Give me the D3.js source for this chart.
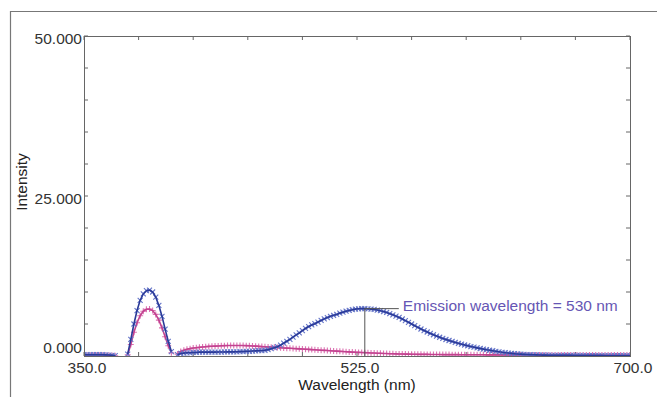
<!DOCTYPE html>
<html>
<head>
<meta charset="utf-8">
<script src="https://cdn.jsdelivr.net/npm/d3@7"></script>
<style>
  html, body { margin: 0; padding: 0; background: #fff; }
  svg { display: block; font-family: "Liberation Sans", Arial, sans-serif; }
</style>
</head>
<body>
<svg id="chart" width="657" height="397"></svg>
<script>
// wavelength grid, 2 nm steps from 350 to 700
const wavelengths = d3.range(350, 701, 2);

// blue series (x markers): emission spectrum
const blueValues = [
  0.2, 0.2, 0.2, 0.2, 0.2, 0.2, 0.2, 0.18, 0.15, 0.1, 0.05,          // 350-370
  null, null, null,                                                  // 372-376
  0.3, 2.6, 5.0, 7.1, 8.7, 9.7, 10.2, 10.3, 10.0, 9.2, 7.9, 6.2, 4.2, 2.3, 0.7, // 378-406
  null,                                                              // 408
  0.2, 0.4, 0.45, 0.5, 0.5, 0.55, 0.55, 0.6, 0.6, 0.6,               // 410-428
  0.6, 0.6, 0.6, 0.62, 0.62, 0.63, 0.64, 0.65, 0.65, 0.66,           // 430-448
  0.68, 0.7, 0.72, 0.74, 0.77, 0.8, 0.83, 0.85, 0.9, 1.0,            // 450-468
  1.15, 1.3, 1.45, 1.7, 2.0, 2.3, 2.6, 2.95, 3.3, 3.6,               // 470-488
  3.95, 4.3, 4.6, 4.85, 5.05, 5.3, 5.55, 5.8, 6.0, 6.2,              // 490-508
  6.35, 6.5, 6.7, 6.85, 7.0, 7.12, 7.23, 7.32, 7.38, 7.4,            // 510-528
  7.4, 7.38, 7.33, 7.27, 7.18, 7.08, 6.95, 6.8, 6.62, 6.43,          // 530-548
  6.23, 6.02, 5.78, 5.53, 5.27, 5.0, 4.73, 4.47, 4.22, 3.98,         // 550-568
  3.75, 3.53, 3.32, 3.12, 2.93, 2.75, 2.58, 2.42, 2.27, 2.12,        // 570-588
  1.98, 1.85, 1.72, 1.6, 1.48, 1.37, 1.27, 1.17, 1.07, 0.98,         // 590-608
  0.9, 0.82, 0.74, 0.66, 0.58, 0.52, 0.46, 0.41, 0.36, 0.32,         // 610-628
  0.29, 0.26, 0.23, 0.21, 0.19, 0.17, 0.15, 0.14, 0.13, 0.12,        // 630-648
  0.11, 0.1, 0.1, 0.1, 0.09, 0.09, 0.09, 0.08, 0.08, 0.08,           // 650-668
  0.07, 0.07, 0.07, 0.06, 0.06, 0.06, 0.06, 0.05, 0.05, 0.05,        // 670-688
  0.05, 0.05, 0.05, 0.05, 0.05, 0.05                                 // 690-700
];

// pink series (+ markers)
const pinkValues = [
  0.12, 0.12, 0.12, 0.12, 0.12, 0.12, 0.12, 0.1, 0.1, 0.08, 0.05,    // 350-370
  null, null, null,                                                  // 372-376
  0.2, 1.8, 3.7, 5.2, 6.3, 7.0, 7.3, 7.35, 7.1, 6.5, 5.6, 4.4, 3.0, 1.6, 0.5, // 378-406
  null,                                                              // 408
  0.3, 0.7, 0.9, 1.05, 1.15, 1.25, 1.3, 1.35, 1.4, 1.45,             // 410-428
  1.5, 1.52, 1.55, 1.57, 1.6, 1.62, 1.63, 1.64, 1.65, 1.65,          // 430-448
  1.65, 1.64, 1.62, 1.6, 1.57, 1.54, 1.5, 1.47, 1.44, 1.41,          // 450-468
  1.38, 1.35, 1.32, 1.29, 1.26, 1.23, 1.2, 1.17, 1.15, 1.12,         // 470-488
  1.09, 1.06, 1.03, 1.0, 0.97, 0.94, 0.91, 0.88, 0.85, 0.82,         // 490-508
  0.79, 0.76, 0.73, 0.7, 0.67, 0.64, 0.61, 0.58, 0.56, 0.54,         // 510-528
  0.52, 0.5, 0.48, 0.46, 0.44, 0.42, 0.4, 0.38, 0.36, 0.34,          // 530-548
  0.33, 0.32, 0.31, 0.3, 0.29, 0.28, 0.27, 0.26, 0.26, 0.25,         // 550-568
  0.25, 0.24, 0.24, 0.23, 0.23, 0.22, 0.22, 0.22, 0.21, 0.21,        // 570-588
  0.21, 0.2, 0.2, 0.2, 0.2, 0.19, 0.19, 0.19, 0.19, 0.18,            // 590-608
  0.18, 0.18, 0.18, 0.18, 0.17, 0.17, 0.17, 0.17, 0.17, 0.16,        // 610-628
  0.16, 0.16, 0.16, 0.16, 0.16, 0.15, 0.15, 0.15, 0.15, 0.15,        // 630-648
  0.15, 0.15, 0.15, 0.15, 0.15, 0.15, 0.15, 0.15, 0.15, 0.15,        // 650-668
  0.15, 0.15, 0.15, 0.15, 0.15, 0.15, 0.15, 0.15, 0.15, 0.15,        // 670-688
  0.15, 0.15, 0.15, 0.15, 0.15, 0.15                                 // 690-700
];

const xTicks = d3.range(350, 701, 35);
const xLabels = [350, 525, 700];
const yTicks = d3.range(0, 51, 5);
const yLabels = [0, 25, 50];
const peakWavelength = 530;
const peakValue = 7.4;
const annotationText = "Emission wavelength = 530 nm";

const svg = d3.select("#chart");
const margin = { top: 36, right: 27, bottom: 41, left: 84 };
const width = 657;
const height = 397;
const plotRight = width - margin.right;
const plotBottom = height - margin.bottom;

const x = d3.scaleLinear().domain([350, 700]).range([margin.left, plotRight]);
const y = d3.scaleLinear().domain([0, 50]).range([plotBottom, margin.top]);

const blueData = wavelengths.map((w, i) => ({ w, v: blueValues[i] }));
const pinkData = wavelengths.map((w, i) => ({ w, v: pinkValues[i] }));

// outer frame lines (left and top)
svg.append("line")
  .attr("x1", 10.5).attr("x2", 10.5).attr("y1", 11).attr("y2", height)
  .attr("stroke", "#777").attr("stroke-width", 1.2);
svg.append("line")
  .attr("x1", 10).attr("x2", width).attr("y1", 11.5).attr("y2", 11.5)
  .attr("stroke", "#777").attr("stroke-width", 1.2);

svg.append("defs").append("clipPath").attr("id", "plot-clip")
  .append("rect")
  .attr("x", margin.left).attr("y", margin.top)
  .attr("width", plotRight - margin.left).attr("height", plotBottom - margin.top);

// ticks on all four sides, pointing inward
const tickLen = 4;
const tickG = svg.append("g").attr("stroke", "#666").attr("stroke-width", 1);
xTicks.forEach((t) => {
  tickG.append("line").attr("x1", x(t)).attr("x2", x(t)).attr("y1", plotBottom).attr("y2", plotBottom - tickLen);
  tickG.append("line").attr("x1", x(t)).attr("x2", x(t)).attr("y1", margin.top).attr("y2", margin.top + tickLen);
});
yTicks.forEach((t) => {
  tickG.append("line").attr("x1", margin.left).attr("x2", margin.left + tickLen).attr("y1", y(t)).attr("y2", y(t));
  tickG.append("line").attr("x1", plotRight).attr("x2", plotRight - tickLen).attr("y1", y(t)).attr("y2", y(t));
});

// tick labels
svg.append("g")
  .selectAll("text")
  .data(xLabels)
  .join("text")
  .attr("x", (d) => x(d) + 3)
  .attr("y", plotBottom + 17)
  .attr("text-anchor", "middle")
  .attr("font-size", 15.5)
  .attr("fill", "#333")
  .text((d) => d3.format(".1f")(d));

svg.append("g")
  .selectAll("text")
  .data(yLabels)
  .join("text")
  .attr("x", margin.left - 2)
  .attr("y", (d) => y(d) + (d === 0 ? -3 : 8))
  .attr("text-anchor", "end")
  .attr("font-size", 15.5)
  .attr("fill", "#333")
  .text((d) => d3.format(".3f")(d));

// axis titles
svg.append("text")
  .attr("x", x(525))
  .attr("y", 390)
  .attr("text-anchor", "middle")
  .attr("font-size", 15.5)
  .attr("fill", "#222")
  .text("Wavelength (nm)");

svg.append("text")
  .attr("transform", `translate(27,${y(25) - 14}) rotate(-90)`)
  .attr("text-anchor", "middle")
  .attr("font-size", 15.5)
  .attr("fill", "#222")
  .text("Intensity");

const line = d3.line()
  .defined((d) => d.v !== null)
  .x((d) => x(d.w))
  .y((d) => y(d.v));

const plot = svg.append("g").attr("clip-path", "url(#plot-clip)");

function drawSeries(data, lineColor, markerColor, marker) {
  const s = 2.5;
  plot.append("g")
    .selectAll("path")
    .data(data.filter((d) => d.v !== null))
    .join("path")
    .attr("transform", (d) => `translate(${x(d.w)},${y(d.v)})`)
    .attr("d", marker === "x"
      ? `M${-s},${-s}L${s},${s}M${-s},${s}L${s},${-s}`
      : `M${-s - 0.5},0L${s + 0.5},0M0,${-s - 0.5}L0,${s + 0.5}`)
    .attr("stroke", markerColor)
    .attr("stroke-width", 1.1)
    .attr("fill", "none");
  plot.append("path")
    .datum(data)
    .attr("fill", "none")
    .attr("stroke", lineColor)
    .attr("stroke-width", 1.6)
    .attr("d", line);
}

drawSeries(pinkData, "#c2428f", "#dc72b2", "+");
drawSeries(blueData, "#2a3a98", "#6474c8", "x");

// plot frame
svg.append("rect")
  .attr("x", margin.left + 0.5).attr("y", margin.top + 0.5)
  .attr("width", plotRight - margin.left).attr("height", plotBottom - margin.top)
  .attr("fill", "none").attr("stroke", "#666").attr("stroke-width", 1);

// annotation for emission peak
const px = x(peakWavelength);
const py = y(peakValue);
svg.append("line")
  .attr("x1", px).attr("x2", px).attr("y1", py).attr("y2", plotBottom)
  .attr("stroke", "#555").attr("stroke-width", 1);
svg.append("line")
  .attr("x1", px).attr("x2", px + 34).attr("y1", py).attr("y2", py)
  .attr("stroke", "#555").attr("stroke-width", 1);
svg.append("text")
  .attr("x", px + 38)
  .attr("y", py + 2)
  .attr("font-size", 15.5)
  .attr("fill", "#6656b4")
  .text(annotationText);
</script>
</body>
</html>
